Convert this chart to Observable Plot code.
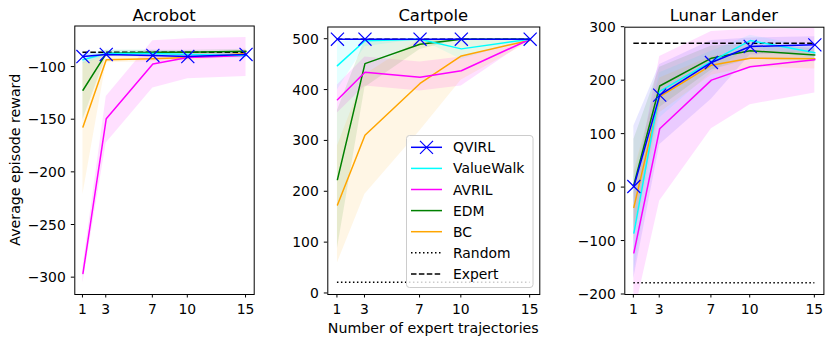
<!DOCTYPE html>
<html><head><meta charset="utf-8">
<script src="https://cdn.jsdelivr.net/npm/d3@7"></script>
<script src="https://cdn.jsdelivr.net/npm/@observablehq/plot@0.6"></script>
<style>
body{margin:0;background:#fff;}
#wrap{position:relative;width:825px;height:337px;font-family:"DejaVu Sans";background:#fff;}
#wrap svg{position:absolute;left:0;top:0;}
#wrap svg text{font-family:"DejaVu Sans";}
</style>
</head><body><div id="wrap"></div>
<script>
// ---- data ----
const steps = [1, 3, 7, 10, 15];
const methods = ["QVIRL", "ValueWalk", "AVRIL", "EDM", "BC"];
const colors = ["#0000ff", "#00ffff", "#ff00ff", "#008000", "#ffa500"];
const legendLabels = ["QVIRL", "ValueWalk", "AVRIL", "EDM", "BC", "Random", "Expert"];

const acrobotMean = [[-90,-88,-89,-90,-88],[-93,-87,-87,-88,-89],[-296,-149,-97,-91,-89],[-122,-87,-86,-86,-85],[-157,-93,-92,-91,-87]];
const acrobotLow  = [[-94,-90,-91,-92,-90],[-97,-90,-90,-91,-92],[-305,-172,-120,-111,-109],[-150,-90,-88,-88,-87],[-221,-96,-95,-94,-90]];
const acrobotHigh = [[-87,-86,-87,-88,-86],[-88,-84,-84,-85,-86],[-290,-128,-75,-73,-72],[-95,-84,-84,-84,-83],[-96,-90,-89,-88,-84]];
const acrobotExpert = -86, acrobotRandom = -500;
const acrobotYTicks = [-300,-250,-200,-150,-100];

const cartpoleMean = [[500,500,500,500,500],[448,497,500,481,500],[381,435,425,438,500],[224,452,490,500,500],[174,311,413,467,498]];
const cartpoleLow  = [[500,500,500,500,500],[400,485,500,460,500],[355,408,398,408,500],[88,405,480,500,500],[60,195,320,420,495]];
const cartpoleHigh = [[500,500,500,500,500],[495,500,500,500,500],[410,465,455,465,500],[360,500,500,500,500],[290,430,500,500,500]];
const cartpoleExpert = 500, cartpoleRandom = 22;
const cartpoleYTicks = [0,100,200,300,400,500];

const lunarMean = [[2,173,234,264,267],[-85,180,236,275,252],[-122,110,201,226,239],[5,190,242,256,248],[-37,170,229,242,241]];
const lunarLow  = [[-170,80,165,248,252],[-160,130,215,262,240],[-240,-25,110,155,177],[-80,150,220,240,235],[-100,140,210,225,222]];
const lunarHigh = [[115,230,275,280,282],[20,215,255,285,262],[-10,245,292,296,298],[90,225,265,268,260],[30,205,245,255,255]];
const lunarExpert = 270, lunarRandom = -178;
const lunarYTicks = [-200,-100,0,100,200,300];

// ---- layout ----
const W = 825, H = 337, bottomY = 294;
const FS = 13.9;
const bandOpacity = [0.09, 0.1, 0.12, 0.1, 0.1];
const panels = [
  {title:"Acrobot", left:74.3, right:253.7, top:25.5, ydomain:[-316,-61], yticks:acrobotYTicks, mean:acrobotMean, low:acrobotLow, high:acrobotHigh, expert:acrobotExpert, random:acrobotRandom},
  {title:"Cartpole", left:327.3, right:539.3, top:26.5, ydomain:[-2,524], yticks:cartpoleYTicks, mean:cartpoleMean, low:cartpoleLow, high:cartpoleHigh, expert:cartpoleExpert, random:cartpoleRandom},
  {title:"Lunar Lander", left:624.3, right:823.4, top:26.7, ydomain:[-200,300], yticks:lunarYTicks, mean:lunarMean, low:lunarLow, high:lunarHigh, expert:lunarExpert, random:lunarRandom}
];
const fmt = v => String(v).replace("-", "\u2212");

const wrap = document.getElementById("wrap");

panels.forEach((p, pi) => {
  const rows = [];
  methods.forEach((m, mi) => steps.forEach((s, si) => rows.push({method:m, step:s, mean:p.mean[mi][si], lo:p.low[mi][si], hi:p.high[mi][si]})));
  const byM = m => rows.filter(r => r.method === m);
  const marks = [];
  methods.forEach((m, mi) => marks.push(Plot.areaY(byM(m), {x:"step", y1:"lo", y2:"hi", fill:colors[mi], fillOpacity:bandOpacity[mi], clip:true})));
  marks.push(Plot.ruleY([p.random], {x1:steps[0], x2:steps[steps.length-1], stroke:"black", strokeWidth:1.5, strokeDasharray:"1.5,2.5", clip:true}));
  marks.push(Plot.ruleY([p.expert], {x1:steps[0], x2:steps[steps.length-1], stroke:"black", strokeWidth:1.5, strokeDasharray:"5.5,2.4", clip:true}));
  for (let mi = methods.length - 1; mi >= 0; mi--) {
    marks.push(Plot.lineY(byM(methods[mi]), {x:"step", y:"mean", stroke:colors[mi], strokeWidth:1.5, clip:true}));
  }
  marks.push(Plot.dot(byM("QVIRL"), {x:"step", y:"mean", symbol:"times", r:6, stroke:colors[0], strokeWidth:1.2}));
  marks.push(Plot.frame({stroke:"black", strokeWidth:1}));

  const svg = Plot.plot({
    width: W, height: H,
    marginLeft: p.left, marginRight: W - p.right, marginTop: p.top, marginBottom: H - bottomY,
    x: {domain:[0.3, 15.7], axis:null},
    y: {domain: p.ydomain, axis:null},
    style: {background:"transparent", overflow:"visible", color:"black"},
    marks
  });
  const s = d3.select(svg);
  const xs = svg.scale("x"), ys = svg.scale("y");
  const ax = s.append("g").attr("fill","black").style("font-size", FS + "px");
  // x ticks
  steps.forEach(v => {
    const x = xs.apply(v);
    ax.append("line").attr("x1", x).attr("x2", x).attr("y1", bottomY).attr("y2", bottomY + 3.5).attr("stroke","black").attr("stroke-width",1);
    ax.append("text").attr("x", x).attr("y", 313.5).attr("text-anchor","middle").text(fmt(v));
  });
  // y ticks
  p.yticks.forEach(v => {
    const y = ys.apply(v);
    ax.append("line").attr("x1", p.left - 3.5).attr("x2", p.left).attr("y1", y).attr("y2", y).attr("stroke","black").attr("stroke-width",1);
    ax.append("text").attr("x", p.left - 8.5).attr("y", y).attr("dy","0.36em").attr("text-anchor","end").text(fmt(v));
  });
  s.append("text").attr("x", (p.left + p.right)/2).attr("y", 20.5).attr("text-anchor","middle")
    .style("font-size","16.4px").attr("fill","black").text(p.title);
  if (pi === 0) {
    s.append("text").attr("transform", `translate(19.5,${(p.top+bottomY)/2}) rotate(-90)`).attr("text-anchor","middle")
      .style("font-size","14.2px").attr("fill","black").text("Average episode reward");
  }
  if (pi === 1) {
    s.append("text").attr("x", (p.left + p.right)/2).attr("y", 333).attr("text-anchor","middle")
      .style("font-size","14.2px").attr("fill","black").text("Number of expert trajectories");
  }
  wrap.appendChild(svg);
});

// ---- legend (inside Cartpole panel) ----
const leg = d3.select(wrap).append("svg").attr("width", W).attr("height", H).style("position","absolute").style("left","0").style("top","0");
const lx = 406, ly = 135, lw = 126.5, lh = 152;
leg.append("rect").attr("x", lx+0.5).attr("y", ly+0.5).attr("width", lw).attr("height", lh).attr("rx", 3)
  .attr("fill","white").attr("fill-opacity",0.8).attr("stroke","#cccccc").attr("stroke-width",1);
legendLabels.forEach((lab, i) => {
  const cy = 147.3 + i * 21.1;
  const g = leg.append("g");
  const line = g.append("line").attr("x1", 411).attr("x2", 442).attr("y1", cy).attr("y2", cy).attr("stroke-width", 1.5);
  if (i < methods.length) line.attr("stroke", colors[i]);
  else {
    line.attr("stroke","black").attr("stroke-dasharray", i === 5 ? "1.5,2.5" : "5.5,2.4");
  }
  if (i === 0) {
    const r = 6.5, cx = 426.5;
    g.append("path").attr("d", `M${cx-r},${cy-r}L${cx+r},${cy+r}M${cx-r},${cy+r}L${cx+r},${cy-r}`).attr("stroke", colors[0]).attr("stroke-width",1.2);
  }
  g.append("text").attr("x", 453).attr("y", cy).attr("dy","0.36em").style("font-size", FS + "px").attr("fill","black").text(lab);
});
</script>
</body></html>
